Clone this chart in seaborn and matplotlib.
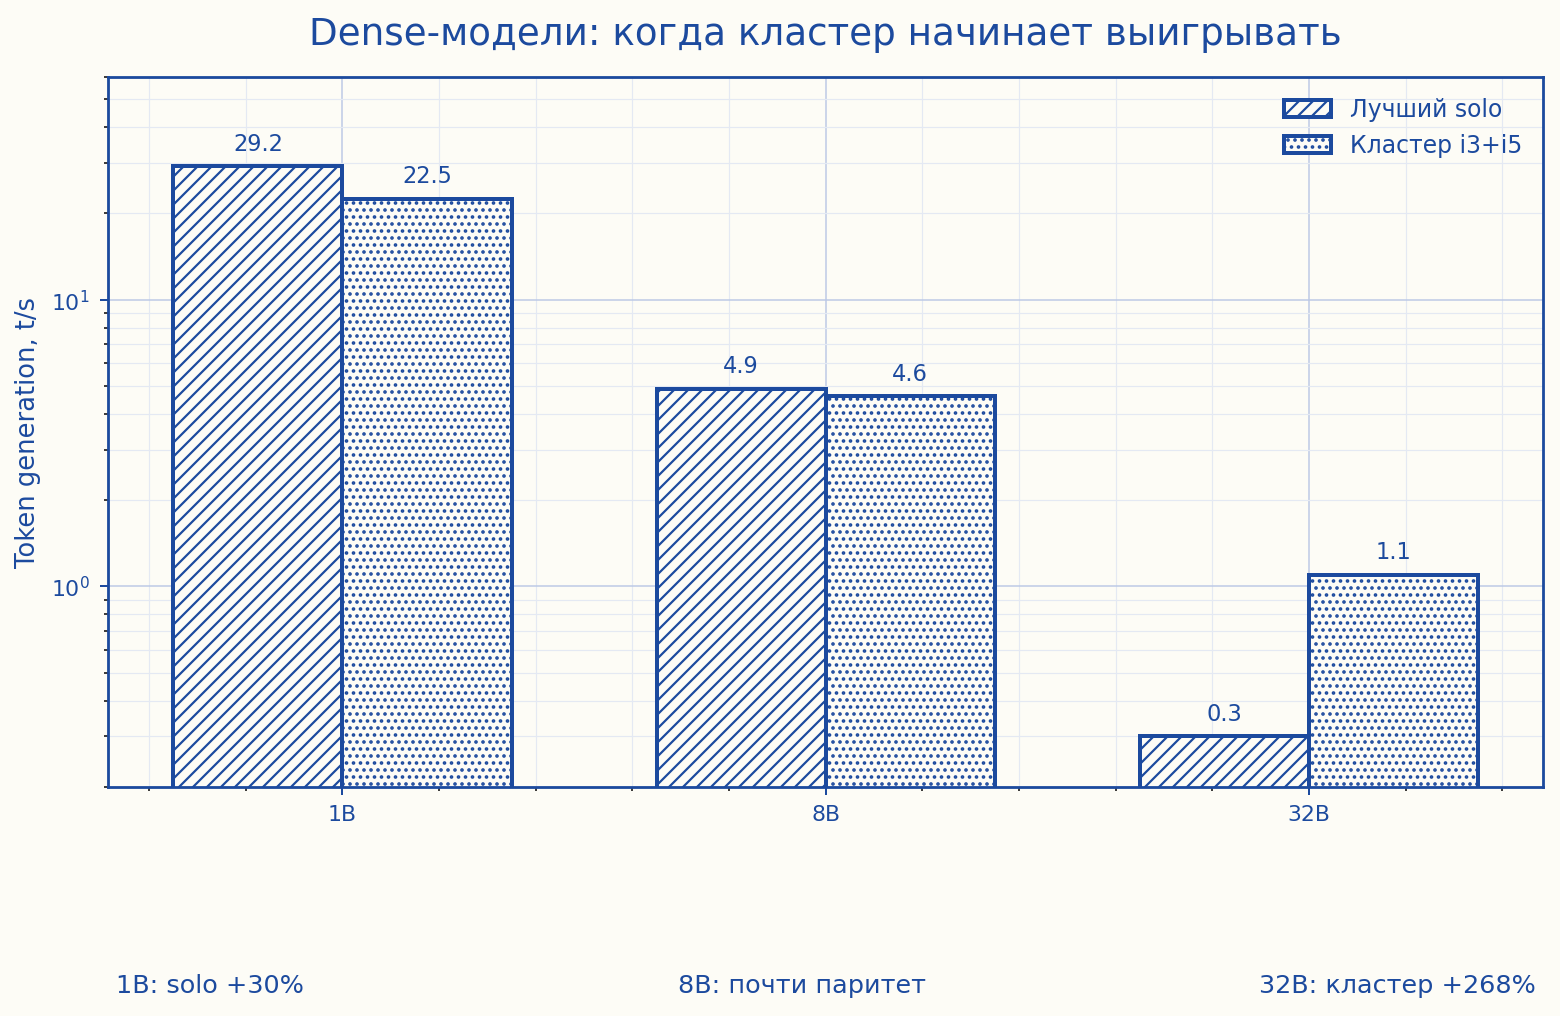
import matplotlib
matplotlib.use('Agg')
import matplotlib.pyplot as plt
import seaborn as sns
import pandas as pd

## chart data
models = ['1B', '8B', '32B']
series = ['Лучший solo', 'Кластер i3+i5']
solo_tps = [29.2, 4.9, 0.3]
cluster_tps = [22.5, 4.6, 1.1]
notes = ['1B: solo +30%', '8B: почти паритет', '32B: кластер +268%']

BLUE = '#1c4a9e'
BG = '#fdfcf6'
DPI = 84


def px(v):
    # pixels -> points for this dpi
    return v * 72 / DPI


df = pd.DataFrame({
    'model': models * 2,
    'series': [series[0]] * len(models) + [series[1]] * len(models),
    'tps': solo_tps + cluster_tps,
})

plt.rcParams['hatch.color'] = BLUE
plt.rcParams['hatch.linewidth'] = px(2.2)

fig = plt.figure(figsize=(1560.4 / DPI, 1016.4 / DPI), dpi=DPI, facecolor=BG)
ax = fig.add_axes([108 / 1560, 1 - 787 / 1016, 1435 / 1560, 710 / 1016])
ax.set_facecolor(BG)

sns.barplot(data=df, x='model', y='tps', hue='series',
            order=models, hue_order=series,
            width=0.7, errorbar=None, legend=False, ax=ax)

ax.set_yscale('log')
ax.set_ylim(0.2, 60)
ax.set_xlim(-0.485, 2.485)

# hatched bars + value labels
hatches = ['//', '..']
for cont, h in zip(ax.containers, hatches):
    for bar in cont:
        bar.set_facecolor(BG)
        bar.set_edgecolor(BLUE)
        bar.set_hatch(h)
        bar.set_linewidth(px(4))
    ax.bar_label(cont, fmt='%.1f', padding=px(11), color=BLUE,
                 fontsize=px(22.5))

## grid and ticks
ax.minorticks_on()
ax.set_axisbelow(True)
ax.grid(which='major', color='#bcc9e6', lw=px(1.5))
ax.grid(which='minor', color='#e4e9f3', lw=px(1.2))

ax.tick_params(which='major', colors=BLUE, length=px(8), width=px(2),
               pad=px(10), labelsize=px(22))
ax.tick_params(which='minor', length=px(4), width=px(1.5))

for sp in ax.spines.values():
    sp.set_color(BLUE)
    sp.set_linewidth(px(2.8))

ax.set_xlabel('')
ax.set_ylabel('Token generation, t/s', color=BLUE, fontsize=px(25.8),
              labelpad=px(10))
ax.set_title('Dense-модели: когда кластер начинает выигрывать',
             color=BLUE, fontsize=px(37.3), pad=px(32))

handles = [ax.containers[0][0], ax.containers[1][0]]
ax.legend(handles, series, loc='upper right', frameon=False,
          fontsize=px(23.5), labelcolor=BLUE)

## notes under the chart
note_y = 1 - 986 / 1016
fig.text(116 / 1560, note_y, notes[0], ha='left', va='center',
         color=BLUE, fontsize=px(25.5))
fig.text(802 / 1560, note_y, notes[1], ha='center', va='center',
         color=BLUE, fontsize=px(25.5))
fig.text(1535 / 1560, note_y, notes[2], ha='right', va='center',
         color=BLUE, fontsize=px(25.5))

fig.savefig('out.png', dpi=DPI, facecolor=BG)
